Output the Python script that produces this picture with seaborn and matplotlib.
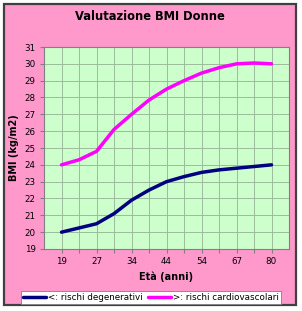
import matplotlib
matplotlib.use("Agg")
import matplotlib.pyplot as plt
from matplotlib.patches import Rectangle
from matplotlib.lines import Line2D
import seaborn as sns
import pandas as pd
import numpy as np

ages = [19, 23, 27, 30, 34, 39, 44, 49, 54, 60, 67, 73, 80]
degenerativi = [20.0, 20.25, 20.5, 21.1, 21.9, 22.5, 23.0, 23.3, 23.55, 23.7, 23.8, 23.9, 24.0]
cardiovascolari = [24.0, 24.3, 24.8, 26.1, 27.0, 27.85, 28.5, 29.0, 29.45, 29.77, 30.0, 30.05, 30.0]
series_names = ["<: rischi degenerativi", ">: rischi cardiovascolari"]
colors = ["#000080", "#FF00FF"]

sns.set_theme(style="white")
plt.rcParams["font.family"] = ["DejaVu Sans"]
plt.rcParams["text.color"] = "black"
plt.rcParams["axes.labelcolor"] = "black"
plt.rcParams["xtick.color"] = "black"
plt.rcParams["ytick.color"] = "black"

idx = list(range(len(ages)))
df = pd.DataFrame({
    "idx": idx * 2,
    "bmi": degenerativi + cardiovascolari,
    "serie": [series_names[0]] * len(ages) + [series_names[1]] * len(ages),
})

W, H = 302, 311
fig = plt.figure(figsize=(W / 100, H / 100), dpi=100, facecolor="white")
# outer chart area
fig.patches.append(Rectangle((4 / W, 1 - 305 / H), 292 / W, 301 / H, transform=fig.transFigure,
                             facecolor="#FF99CC", edgecolor="#404040", linewidth=1.6, zorder=-10))

ax = fig.add_axes([44 / W, 1 - 249 / H, 245 / W, 202 / H])
ax.set_facecolor("#CCFFCC")
sns.lineplot(data=df, x="idx", y="bmi", hue="serie", palette=colors, linewidth=2.5,
             ax=ax, legend=False, zorder=3)

ax.set_xlim(-1, len(ages))
ax.set_ylim(19, 31)
ax.set_yticks(range(19, 32))
ax.set_xticks(idx)
ax.set_xticklabels([str(a) if i % 2 == 0 else "" for i, a in enumerate(ages)])
ax.grid(True, color="#9CBC9C", linewidth=0.7)
for s in ax.spines.values():
    s.set_color("#808080")
    s.set_linewidth(0.8)
ax.tick_params(axis="both", which="both", length=3, width=0.8, color="#808080",
               labelcolor="black", labelsize=6.3, pad=3, direction="out", left=True, bottom=True)
ax.set_xlabel("Età (anni)", fontsize=7, fontweight="bold", labelpad=4, color="black")
ax.set_ylabel("BMI (kg/m2)", fontsize=7, fontweight="bold", labelpad=4, color="black")

fig.text(150 / W, 1 - 17 / H, "Valutazione BMI Donne", ha="center", va="center",
         fontsize=8.3, fontweight="bold", color="black")

handles = [Line2D([], [], color=c, linewidth=2.5) for c in colors]
leg = fig.legend(handles, series_names, loc="center", bbox_to_anchor=(151 / W, 1 - 297.5 / H),
                 ncol=2, fontsize=6.3, frameon=True, fancybox=False, handlelength=2.6,
                 handletextpad=0.3, columnspacing=0.6, borderpad=0.25, borderaxespad=0,
                 labelcolor="black")
leg.get_frame().set_edgecolor("#808080")
leg.get_frame().set_linewidth(0.6)
leg.get_frame().set_facecolor("white")
leg.get_frame().set_alpha(1)

fig.savefig("out.png", dpi=100, facecolor="white")
